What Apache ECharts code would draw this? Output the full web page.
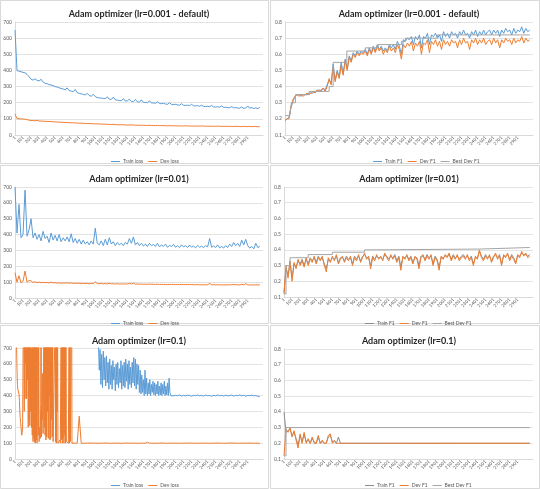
<!DOCTYPE html>
<html><head><meta charset="utf-8">
<script src="https://cdn.jsdelivr.net/npm/echarts@6/dist/echarts.min.js"></script>
<style>html,body{margin:0;padding:0;background:#fff}#c{width:540px;height:489px}</style>
</head><body><div id="c"></div>
<script>
// ---------- DATA ----------
const STEP = 25;            // sampling interval (training steps) of most value arrays
const xTickLabels = ['1','101','201','301','401','501','601','701','801','901','1001','1101','1201','1301','1401','1501','1601','1701','1801','1901','2001','2101','2201','2301','2401','2501','2601','2701','2801','2901'];
const lossTicks = ['0','100','200','300','400','500','600','700'];
const f1Ticks = ['0.1','0.2','0.3','0.4','0.5','0.6','0.7','0.8'];
const titles = ['Adam optimizer (lr=0.001 - default)','Adam optimizer (lr=0.001 - default)','Adam optimizer (lr=0.01)','Adam optimizer (lr=0.01)','Adam optimizer (lr=0.1)','Adam optimizer (lr=0.1)'];

// lr=0.001 loss
const trainLossA = [650,400,395,392,388,385,375,362,345,340,348,338,335,345,328,320,318,312,310,305,300,297,292,288,285,280,292,275,272,268,282,262,258,255,252,248,258,245,240,252,238,232,230,228,227,225,236,222,220,235,218,216,214,212,225,210,212,222,208,207,220,205,204,218,202,201,200,212,198,199,196,205,195,194,196,192,190,200,189,188,190,186,185,194,184,183,185,182,190,181,180,182,178,185,177,176,178,175,183,174,173,175,172,180,171,172,170,169,176,168,170,167,166,174,165,167,180,166,170,164,168,163,172];
const devLossA = [130,102,100,100,99,98,95,92,90,89,88,90,87,86,86,85,84,84,83,82,81,80,80,79,78,78,77,76,76,75,75,74,73,73,72,72,71,71,70,70,69,69,68,68,67,67,66,66,65,66,64,64,63,63,64,62,62,62,63,61,61,60,61,60,60,60,59,60,59,59,58,59,58,58,59,57,57,58,57,57,57,56,57,56,56,57,56,55,56,55,56,55,55,56,55,54,55,54,55,54,54,55,54,53,54,54,53,54,53,53,54,53,53,52,53,53,52,53,52,52,53,51,52];
// lr=0.001 F1
const trainF1A = [0.19,0.20,0.21,0.27,0.31,0.34,0.35,0.35,0.34,0.35,0.35,0.35,0.36,0.36,0.36,0.37,0.37,0.38,0.37,0.39,0.38,0.41,0.44,0.42,0.54,0.44,0.50,0.46,0.55,0.48,0.57,0.51,0.59,0.56,0.61,0.59,0.62,0.60,0.62,0.61,0.63,0.60,0.64,0.61,0.65,0.62,0.66,0.63,0.65,0.62,0.64,0.62,0.66,0.64,0.66,0.63,0.68,0.65,0.60,0.69,0.68,0.70,0.69,0.71,0.66,0.71,0.69,0.72,0.64,0.71,0.70,0.73,0.66,0.72,0.71,0.73,0.70,0.72,0.68,0.74,0.71,0.73,0.70,0.74,0.72,0.73,0.70,0.74,0.72,0.75,0.72,0.73,0.70,0.74,0.72,0.75,0.71,0.74,0.72,0.75,0.72,0.74,0.75,0.72,0.75,0.73,0.75,0.71,0.75,0.73,0.76,0.74,0.75,0.72,0.76,0.73,0.75,0.74,0.77,0.73,0.76,0.74,0.75];
const devF1A = [0.19,0.20,0.20,0.28,0.32,0.34,0.35,0.34,0.35,0.34,0.35,0.36,0.35,0.36,0.37,0.36,0.38,0.37,0.38,0.39,0.37,0.40,0.45,0.41,0.52,0.43,0.49,0.45,0.53,0.47,0.56,0.50,0.58,0.55,0.60,0.58,0.61,0.59,0.61,0.60,0.62,0.59,0.63,0.60,0.64,0.61,0.65,0.62,0.64,0.60,0.63,0.61,0.65,0.62,0.64,0.61,0.66,0.63,0.57,0.66,0.64,0.67,0.65,0.68,0.62,0.67,0.65,0.68,0.60,0.67,0.66,0.69,0.61,0.68,0.66,0.69,0.65,0.68,0.63,0.69,0.66,0.68,0.65,0.69,0.67,0.68,0.64,0.69,0.66,0.70,0.67,0.68,0.63,0.69,0.67,0.70,0.66,0.69,0.67,0.70,0.66,0.68,0.69,0.66,0.70,0.67,0.69,0.64,0.69,0.67,0.70,0.68,0.69,0.66,0.70,0.67,0.69,0.68,0.71,0.67,0.70,0.68,0.69];
const bestDevStepsA = [0,60,80,130,300,550,600,770,1000,1160,1450,1500,1900,3050];
const bestDevValsA  = [0.22,0.22,0.30,0.35,0.37,0.40,0.55,0.62,0.64,0.66,0.68,0.70,0.72,0.72];

// lr=0.01 loss
const trainLossB = [700,410,590,380,400,680,390,430,500,380,410,370,400,360,420,375,390,350,410,365,395,360,400,355,380,360,385,355,405,350,375,345,370,340,365,340,355,335,360,340,440,345,335,360,330,370,335,380,340,355,330,350,335,345,330,350,340,375,345,385,335,350,330,345,328,340,325,345,330,338,325,345,322,335,325,340,320,332,325,338,320,330,318,335,322,330,318,334,320,328,316,332,320,326,318,330,322,375,320,328,318,335,316,325,315,330,318,340,325,350,330,345,325,365,335,370,330,315,325,310,345,318,325];
const devLossB = [160,100,140,95,105,170,100,110,108,98,102,97,100,96,99,97,98,95,100,95,97,94,96,93,95,94,96,93,95,92,94,92,93,91,93,91,92,90,92,90,102,91,90,92,89,91,89,93,89,90,88,90,88,89,88,89,88,92,88,94,87,88,87,88,86,87,86,88,86,87,85,87,85,86,85,86,84,86,85,86,84,85,84,86,84,85,84,85,84,85,83,85,83,84,83,84,83,92,83,84,82,84,82,83,82,83,82,84,83,85,83,84,82,86,83,90,83,82,83,81,84,82,83];
// lr=0.01 F1
const trainF1B = [0.13,0.28,0.24,0.32,0.22,0.31,0.29,0.33,0.31,0.34,0.30,0.34,0.31,0.35,0.33,0.35,0.32,0.36,0.34,0.35,0.31,0.28,0.34,0.33,0.35,0.34,0.36,0.32,0.35,0.35,0.33,0.36,0.34,0.35,0.31,0.36,0.34,0.36,0.33,0.36,0.37,0.35,0.35,0.30,0.36,0.34,0.36,0.35,0.35,0.34,0.37,0.36,0.34,0.36,0.35,0.37,0.33,0.36,0.29,0.35,0.35,0.36,0.34,0.36,0.32,0.35,0.35,0.30,0.36,0.36,0.34,0.37,0.35,0.36,0.31,0.36,0.34,0.29,0.35,0.35,0.36,0.36,0.37,0.34,0.37,0.35,0.36,0.34,0.36,0.37,0.35,0.36,0.34,0.36,0.31,0.35,0.35,0.39,0.36,0.34,0.37,0.35,0.36,0.33,0.36,0.37,0.35,0.37,0.31,0.36,0.36,0.37,0.34,0.37,0.35,0.32,0.36,0.36,0.38,0.37,0.37,0.36,0.37];
const devF1B = [0.12,0.30,0.22,0.33,0.20,0.32,0.28,0.34,0.30,0.33,0.29,0.35,0.30,0.34,0.32,0.36,0.31,0.35,0.33,0.36,0.30,0.26,0.35,0.32,0.36,0.33,0.37,0.31,0.34,0.36,0.32,0.35,0.33,0.36,0.30,0.35,0.33,0.37,0.32,0.35,0.38,0.34,0.36,0.28,0.35,0.33,0.37,0.34,0.36,0.33,0.38,0.35,0.33,0.37,0.34,0.36,0.32,0.35,0.27,0.36,0.34,0.37,0.33,0.35,0.31,0.36,0.34,0.28,0.35,0.37,0.33,0.36,0.34,0.37,0.30,0.35,0.33,0.27,0.36,0.34,0.37,0.35,0.38,0.33,0.36,0.34,0.37,0.33,0.35,0.36,0.34,0.37,0.33,0.35,0.30,0.36,0.34,0.40,0.35,0.33,0.36,0.34,0.37,0.32,0.35,0.38,0.34,0.36,0.30,0.37,0.35,0.38,0.33,0.36,0.34,0.31,0.37,0.35,0.39,0.36,0.38,0.35,0.36];
const bestDevStepsB = [0,25,75,300,350,600,1000,1150,2425,3050];
const bestDevValsB  = [0.12,0.30,0.35,0.37,0.37,0.385,0.40,0.405,0.415,0.415];

// lr=0.1 loss (values above 700 run off the top of the plot)
const trainLossCEarly = [1500,1450,1600,1550,1400,1500,1650,1450,1500,1550,1400,1500,1600,1450,1500,1550,1400,1350,1500,1450,1300,1400,1350,1250,1300,1200,1250,1150,1200,1100,1150,1050,1100,1000,1050,950,1000,900,950,850,900,1000]; // steps 0..1025, every 25
const TRAIN_BAND_START = 1030, TRAIN_BAND_STEP = 10;
const trainLossCBand = [900,720,560,690,470,660,450,680,500,640,460,650,480,610,440,630,470,590,440,620,500,580,430,600,470,610,450,570,480,620,440,590,460,610,450,630,490,600,440,620,470,580,450,610,480,640,460,630,440,600,470,590,420,560,410,530,420,500,400,560,410,510,400,480,410,500,400,470,420,490,405,480,400,470,410,490,400,460,405,480,400,470,410,490,400,460,405,480,400,510,420,400,402,398]; // steps 1030..1960
const TRAIN_TAIL_START = 1975;
const trainLossCTail = [398,402,399,404,397,401,398,403,400,396,402,399,404,398,401,397,403,399,400,396,402,398,404,399,401,397,402,398,400,403,397,401,399,404,398,402,396,401,399,403,398,400,396,392]; // steps 1975..3050
const DEV_EARLY_STEP = 5;
const devLossCEarly = [1000,1200,900,800,700,560,470,440,440,430,410,370,300,260,230,200,170,150,140,200,600,1200,900,300,1100,380,1300,600,1000,380,1200,500,900,200,1100,250,800,210,1000,300,1200,200,700,150,1000,110,900,130,1100,105,800,100,1200,120,900,100,600,1000,150,1300,110,120,200,130,350,1200,140,300,250,540,160,450,1000,200,1200,150,900,120,1100,140,800,300,1200,130,1000,400,1300,120,900,130,1100,250,800,140,1200,110,100,100,105,100,900,110,1200,100,800,300,1100,100,100,110,100,100,120,100,100,900,120,1200,100,1000,130,1100,100,800,150,1200,100,900,110,100,100,100,105,100,100,1000,100,1200,110,100,100,1300,100,100,100,100]; // steps 0..725
const DEV_LATE_START = 750;
const devLossCLate = [100,100,270,100,99,100,100,101,100,100,100,99,100,100,100,101,100,100,99,100,100,100,100,99,100,100,101,100,100,100,100,99,100,100,100,100,106,100,100,99,100,100,100,101,100,100,99,100,100,100,100,100,99,100,100,100,100,101,100,100,99,100,100,100,100,100,100,99,100,100,100,101,100,100,99,100,100,100,102,100,100,100,99,100,100,100,100,101,100,99,100,100,98]; // steps 750..3050
// lr=0.1 F1
const trainF1C = [0.40,0.27,0.28,0.29,0.25,0.27,0.23,0.19,0.25,0.21,0.26,0.21,0.22,0.20,0.23,0.21,0.20,0.24,0.20,0.21,0.20,0.20,0.24,0.25,0.21,0.21,0.20,0.24,0.20,0.20,
 0.2,0.2,0.2,0.2,0.2,0.2,0.2,0.2,0.2,0.2, 0.2,0.2,0.2,0.2,0.2,0.2,0.2,0.2,0.2,0.2, 0.2,0.2,0.2,0.2,0.2,0.2,0.2,0.2,0.2,0.2, 0.2,0.2,0.2,0.2,0.2,0.2,0.2,0.2,0.2,0.2, 0.2,0.2,0.2,0.2,0.2,0.2,0.2,0.2,0.2,0.2, 0.2,0.2,0.2,0.2,0.2,0.2,0.2,0.2,0.2,0.2, 0.2,0.2,0.2,0.2,0.2,0.2,0.2,0.2,0.2,0.2, 0.2,0.2,0.2,0.2,0.2,0.2,0.2,0.2,0.2,0.2, 0.2,0.2,0.2,0.2,0.2,0.2,0.2,0.2,0.2,0.2, 0.2,0.2,0.2];
const devF1C = [0.12,0.29,0.27,0.30,0.24,0.28,0.22,0.17,0.26,0.20,0.27,0.20,0.23,0.20,0.24,0.20,0.20,0.25,0.20,0.22,0.20,0.20,0.25,0.26,0.20,0.22,0.20,0.20,0.20,0.20,
 0.2,0.2,0.2,0.2,0.2,0.2,0.2,0.2,0.2,0.2, 0.2,0.2,0.2,0.2,0.2,0.2,0.2,0.2,0.2,0.2, 0.2,0.2,0.2,0.2,0.2,0.2,0.2,0.2,0.2,0.2, 0.2,0.2,0.2,0.2,0.2,0.2,0.2,0.2,0.2,0.2, 0.2,0.2,0.2,0.2,0.2,0.2,0.2,0.2,0.2,0.2, 0.2,0.2,0.2,0.2,0.2,0.2,0.2,0.2,0.2,0.2, 0.2,0.2,0.2,0.2,0.2,0.2,0.2,0.2,0.2,0.2, 0.2,0.2,0.2,0.2,0.2,0.2,0.2,0.2,0.2,0.2, 0.2,0.2,0.2,0.2,0.2,0.2,0.2,0.2,0.2,0.2, 0.2,0.2,0.2];
const bestDevStepsC = [0,25,3050];
const bestDevValsC  = [0.12,0.30,0.30];

// ---------- CHART ----------
const BLUE = '#5B9BD5', ORANGE = '#ED7D31', GRAY = '#A5A5A5', DGRAY = '#8C8C8C';
const FONT = 'Lato, "Open Sans", sans-serif';
const X_MAX = 3090;

const byStep = (vals, start, step) => vals.map((v, i) => [start + i * step, v]);
const pairs = (xs, ys) => xs.map((x, i) => [x, ys[i]]);

const grids = [
  {left: 15,  top: 22,  width: 248, height: 113},
  {left: 285, top: 22,  width: 248, height: 113},
  {left: 15,  top: 187, width: 248, height: 111},
  {left: 284, top: 187, width: 249, height: 110},
  {left: 15,  top: 348, width: 248, height: 111},
  {left: 284, top: 349, width: 249, height: 110}
];
const kinds = ['loss','f1','loss','f1','loss','f1'];
const titleCenters = [[134,11],[404,11],[134,176],[404,176],[134,338],[404,338]];
const legendPos = [[106,154],[368,154],[106,316],[360,316],[106,478],[360,478]];

const panelSeries = [
  [{name:'Train loss', color:BLUE, data:byStep(trainLossA,0,STEP)},
   {name:'Dev loss', color:ORANGE, data:byStep(devLossA,0,STEP)}],
  [{name:'Train F1', color:BLUE, data:byStep(trainF1A,0,STEP)},
   {name:'Dev F1', color:ORANGE, data:byStep(devF1A,0,STEP)},
   {name:'Best Dev F1', color:GRAY, data:pairs(bestDevStepsA,bestDevValsA), step:'end'}],
  [{name:'Train loss', color:BLUE, data:byStep(trainLossB,0,STEP)},
   {name:'Dev loss', color:ORANGE, data:byStep(devLossB,0,STEP)}],
  [{name:'Train F1', color:DGRAY, data:byStep(trainF1B,0,STEP)},
   {name:'Dev F1', color:ORANGE, data:byStep(devF1B,0,STEP)},
   {name:'Best Dev F1', color:GRAY, data:pairs(bestDevStepsB,bestDevValsB), step:'end'}],
  [{name:'Train loss', color:BLUE, data:byStep(trainLossCEarly,0,STEP)
      .concat(byStep(trainLossCBand,TRAIN_BAND_START,TRAIN_BAND_STEP))
      .concat(byStep(trainLossCTail,TRAIN_TAIL_START,STEP))},
   {name:'Dev loss', color:ORANGE, data:byStep(devLossCEarly,0,DEV_EARLY_STEP)
      .concat(byStep(devLossCLate,DEV_LATE_START,STEP))}],
  [{name:'Train F1', color:DGRAY, data:byStep(trainF1C,0,STEP)},
   {name:'Dev F1', color:ORANGE, data:byStep(devF1C,0,STEP)},
   {name:'Best Dev F1', color:GRAY, data:pairs(bestDevStepsC,bestDevValsC), step:'end'}]
];

const option = {
  animation: false,
  backgroundColor: '#fff',
  textStyle: {fontFamily: FONT},
  graphic: [
    {type:'rect', shape:{x:0.5,y:0.5,width:268,height:163}, style:{fill:'none',stroke:'#d9d9d9',lineWidth:1}},
    {type:'rect', shape:{x:270.5,y:0.5,width:269,height:163}, style:{fill:'none',stroke:'#d9d9d9',lineWidth:1}},
    {type:'rect', shape:{x:0.5,y:165.5,width:268,height:158}, style:{fill:'none',stroke:'#d9d9d9',lineWidth:1}},
    {type:'rect', shape:{x:270.5,y:165.5,width:269,height:158}, style:{fill:'none',stroke:'#d9d9d9',lineWidth:1}},
    {type:'rect', shape:{x:0.5,y:325.5,width:268,height:163}, style:{fill:'none',stroke:'#d9d9d9',lineWidth:1}},
    {type:'rect', shape:{x:270.5,y:325.5,width:269,height:163}, style:{fill:'none',stroke:'#d9d9d9',lineWidth:1}}
  ],
  title: titles.map((t, i) => ({
    text: t, left: titleCenters[i][0], top: titleCenters[i][1] - 6, textAlign: 'center',
    textStyle: {fontFamily: FONT, fontSize: 9, fontWeight: 'bold', color: '#262626'}
  })),
  legend: panelSeries.map((ss, i) => ({
    left: legendPos[i][0], top: legendPos[i][1], orient: 'horizontal',
    icon: 'rect', itemWidth: 9, itemHeight: 1, itemGap: 5,
    textStyle: {fontFamily: FONT, fontSize: 5, color: '#595959', padding: [0,0,0,-2]},
    selectedMode: false,
    data: ss.map(s => ({name: s.name, itemStyle: {color: s.color}}))
  })),
  grid: grids.map(g => Object.assign({containLabel: false}, g)),
  xAxis: grids.map((g, i) => ({
    type: 'value', gridIndex: i, min: 0, max: X_MAX, interval: 100,
    axisLine: {show: true, lineStyle: {color: '#d9d9d9', width: 1}},
    axisTick: {show: false},
    splitLine: {show: false},
    axisLabel: {
      rotate: 45, fontSize: 4.5, color: '#595959', margin: 2, fontFamily: FONT,
      showMaxLabel: false,
      formatter: v => (v % 100 === 0 && v / 100 < xTickLabels.length) ? xTickLabels[v / 100] : ''
    }
  })),
  yAxis: grids.map((g, i) => {
    const isLoss = kinds[i] === 'loss';
    return {
      type: 'value', gridIndex: i,
      min: isLoss ? 0 : 0.1, max: isLoss ? 700 : 0.8, interval: isLoss ? 100 : 0.1,
      axisLine: {show: true, lineStyle: {color: '#d9d9d9', width: 1}},
      axisTick: {show: false},
      splitLine: {show: true, lineStyle: {color: '#e3e3e3', width: 1}},
      axisLabel: {
        fontSize: 5, color: '#595959', margin: 3, fontFamily: FONT,
        formatter: v => isLoss ? lossTicks[Math.round(v / 100)] : f1Ticks[Math.round(v * 10) - 1]
      }
    };
  }),
  series: []
};

panelSeries.forEach((ss, i) => {
  ss.forEach(s => {
    option.series.push({
      type: 'line', name: s.name, xAxisIndex: i, yAxisIndex: i,
      data: s.data, step: s.step || false, showSymbol: false, symbol: 'none',
      clip: true, lineStyle: {color: s.color, width: 1}, itemStyle: {color: s.color}
    });
  });
});

const chart = echarts.init(document.getElementById('c'), null, {renderer: 'canvas'});
chart.setOption(option);
</script>
</body></html>
